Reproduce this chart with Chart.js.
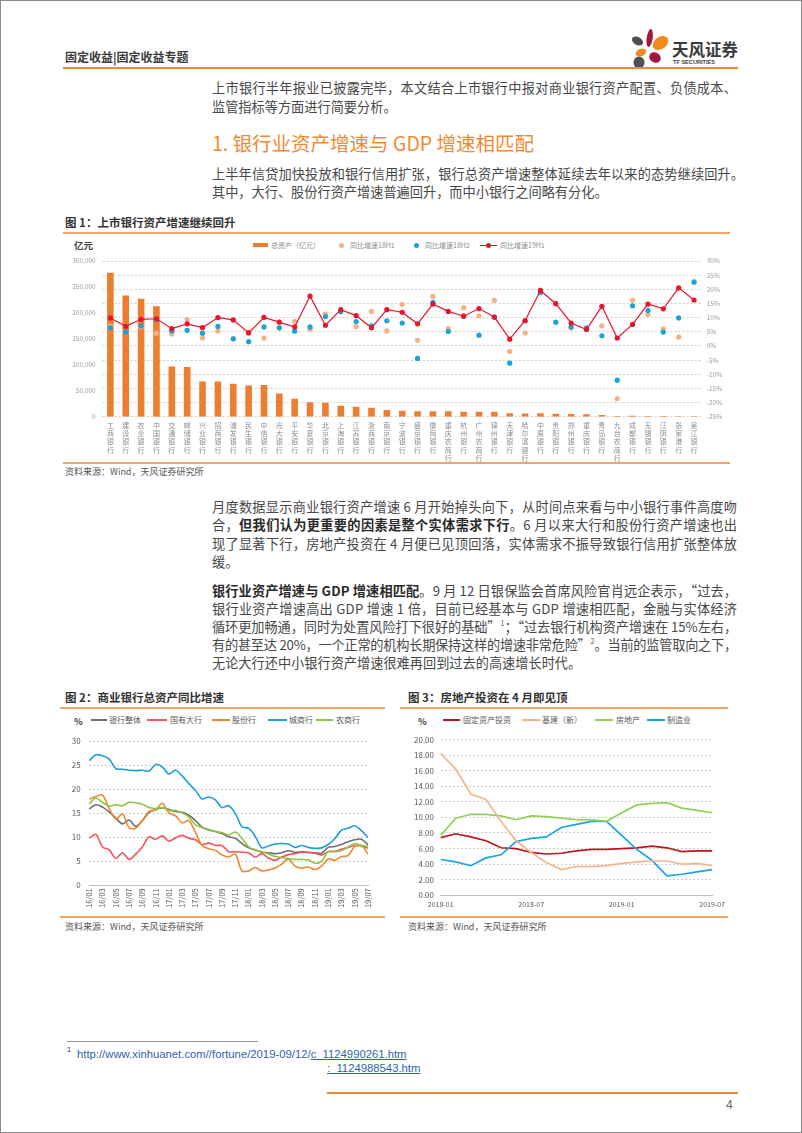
<!DOCTYPE html>
<html><head><meta charset="utf-8">
<script src="https://cdn.jsdelivr.net/npm/chart.js@4.4.0/dist/chart.umd.min.js"></script>
<style>
html,body{margin:0;padding:0;background:#fff;}
#page{position:relative;width:802px;height:1133px;overflow:hidden;font-family:"Noto Sans CJK SC","Noto Sans",sans-serif;color:#474747;}
#frame{position:absolute;left:0;top:0;width:802px;height:1133px;box-sizing:border-box;border:1px solid #8a8a8a;pointer-events:none;}
.abs{position:absolute;white-space:nowrap;}
.ln{position:absolute;left:212px;font-size:13.2px;line-height:18px;height:18px;white-space:nowrap;}
.ln b{font-weight:700;color:#2a2a2a;}
.ln sup{font-size:7px;line-height:0;vertical-align:6px;color:#555;letter-spacing:0;}
.ftitle{position:absolute;font-size:11.5px;font-weight:700;color:#333;line-height:14px;white-space:nowrap;}
.src{position:absolute;font-size:9px;color:#555;line-height:12px;white-space:nowrap;}
.oline{position:absolute;height:1.5px;background:#f2a561;}
.lg{position:absolute;font-size:7px;line-height:10px;color:#8c8c8c;white-space:nowrap;}
.lg2{position:absolute;font-size:8px;line-height:10px;color:#595959;white-space:nowrap;}
.sw{position:absolute;height:1.8px;}
.dot{position:absolute;width:5px;height:5px;border-radius:50%;}
canvas{position:absolute;}
</style>
</head>
<body>
<div id="page">
  <!-- header -->
  <div class="abs" style="left:65px;top:49px;font-size:12px;font-weight:700;color:#3a3a3a;line-height:16px;">固定收益|固定收益专题</div>
  <svg class="abs" style="left:626px;top:24px" width="48" height="48" viewBox="626 24 48 48">
    <ellipse cx="649.7" cy="38" rx="3" ry="9" fill="#a3173f" transform="rotate(8 649.7 38)"/>
    <ellipse cx="660.5" cy="43" rx="8.5" ry="6" fill="#f08a1c" transform="rotate(-35 660.5 43)"/>
    <ellipse cx="637.5" cy="41" rx="6" ry="4" fill="#4f4f4f" transform="rotate(30 637.5 41)"/>
    <ellipse cx="641" cy="52.5" rx="5.5" ry="3.6" fill="#f08a1c" transform="rotate(-20 641 52.5)"/>
    <ellipse cx="655" cy="57.5" rx="6" ry="5" fill="#a3173f" transform="rotate(30 655 57.5)"/>
    <ellipse cx="639" cy="62.5" rx="5.5" ry="6" fill="#4f4f4f"/>
  </svg>
  <div class="abs" style="left:672px;top:39px;font-size:16.5px;font-weight:700;color:#3b3b3b;line-height:20px;">天风证券</div>
  <div class="abs" style="left:673px;top:59px;font-family:'Liberation Sans',sans-serif;font-size:5.6px;font-weight:700;color:#3b3b3b;line-height:7px;">TF SECURITIES</div>
  <div class="abs" style="left:63px;top:67px;width:675px;height:2px;background:#e9893a;"></div>

  <!-- paragraph 1 -->
  <div class="ln j" data-w="525" style="top:79px;"><span>上市银行半年报业已披露完毕，本文结合上市银行中报对商业银行资产配置、负债成本、</span></div>
  <div class="ln" style="top:97.5px;"><span>监管指标等方面进行简要分析。</span></div>

  <div class="abs" style="left:212px;top:131px;font-size:19.5px;line-height:24px;color:#ef8a33;">1. 银行业资产增速与 GDP 增速相匹配</div>

  <div class="ln j" data-w="532" style="top:164.5px;"><span>上半年信贷加快投放和银行信用扩张，银行总资产增速整体延续去年以来的态势继续回升。</span></div>
  <div class="ln" style="top:183px;"><span>其中，大行、股份行资产增速普遍回升，而中小银行之间略有分化。</span></div>

  <!-- figure 1 -->
  <div class="ftitle" style="left:65px;top:215px;">图 1：上市银行资产增速继续回升</div>
  <div class="oline" style="left:63px;top:232px;width:667px;"></div>
  <div class="abs" style="left:74px;top:239px;font-size:9.5px;font-weight:700;color:#404040;line-height:12px;">亿元</div>
  <div class="abs" style="left:253px;top:243px;width:15px;height:4px;background:#ed7d31;"></div>
  <div class="lg" style="left:271px;top:240px;">总资产（亿元）</div>
  <div class="dot" style="left:338.5px;top:242.5px;background:#f4b183;"></div>
  <div class="lg" style="left:350px;top:240px;">同比增速18H1</div>
  <div class="dot" style="left:414px;top:242.5px;background:#1aa3d9;"></div>
  <div class="lg" style="left:425px;top:240px;">同比增速18H2</div>
  <div class="abs" style="left:480px;top:244.5px;width:17px;height:1.2px;background:#e8142c;"></div>
  <div class="dot" style="left:486px;top:242.5px;background:#e8142c;"></div>
  <div class="lg" style="left:500px;top:240px;">同比增速19H1</div>
  <canvas id="c1" width="680" height="212" style="left:60px;top:250px;width:680px;height:212px;"></canvas>
  <div class="oline" style="left:63px;top:462px;width:667px;"></div>
  <div class="src" style="left:65px;top:466px;">资料来源：Wind，天风证券研究所</div>

  <!-- paragraph 3 -->
  <div class="ln j" data-w="525" style="top:497.5px;"><span>月度数据显示商业银行资产增速 6 月开始掉头向下，从时间点来看与中小银行事件高度吻</span></div>
  <div class="ln j" data-w="525" style="top:516px;"><span>合，<b>但我们认为更重要的因素是整个实体需求下行</b>。6 月以来大行和股份行资产增速也出</span></div>
  <div class="ln j" data-w="525" style="top:534.5px;"><span>现了显著下行，房地产投资在 4 月便已见顶回落，实体需求不振导致银行信用扩张整体放</span></div>
  <div class="ln" style="top:553px;"><span>缓。</span></div>

  <!-- paragraph 4 -->
  <div class="ln j" data-w="525" style="top:582px;"><span><b>银行业资产增速与 GDP 增速相匹配</b>。9 月 12 日银保监会首席风险官肖远企表示，“过去，</span></div>
  <div class="ln j" data-w="525" style="top:600px;"><span>银行业资产增速高出 GDP 增速 1 倍，目前已经基本与 GDP 增速相匹配，金融与实体经济</span></div>
  <div class="ln j" data-w="525" style="top:618px;"><span>循环更加畅通，同时为处置风险打下很好的基础”<sup>1</sup>；“过去银行机构资产增速在 15%左右，</span></div>
  <div class="ln j" data-w="525" style="top:636px;"><span>有的甚至达 20%，一个正常的机构长期保持这样的增速非常危险”<sup>2</sup>。当前的监管取向之下，</span></div>
  <div class="ln" style="top:654px;"><span>无论大行还中小银行资产增速很难再回到过去的高速增长时代。</span></div>

  <!-- figure 2 -->
  <div class="ftitle" style="left:65px;top:689.5px;">图 2：商业银行总资产同比增速</div>
  <div class="oline" style="left:60px;top:707px;width:325px;"></div>
  <div class="abs" style="left:74px;top:716px;font-size:9px;font-weight:700;color:#404040;line-height:12px;">%</div>
  <div class="sw" style="left:91px;top:719.2px;width:16px;background:#6e6e6e;"></div>
  <div class="lg2" style="left:109px;top:715px;">银行整体</div>
  <div class="sw" style="left:147px;top:719.2px;width:20px;background:#f2545b;"></div>
  <div class="lg2" style="left:170px;top:715px;">国有大行</div>
  <div class="sw" style="left:212px;top:719.2px;width:18px;background:#ec8a2f;"></div>
  <div class="lg2" style="left:232px;top:715px;">股份行</div>
  <div class="sw" style="left:268px;top:719.2px;width:19px;background:#1aa0dc;"></div>
  <div class="lg2" style="left:289px;top:715px;">城商行</div>
  <div class="sw" style="left:316px;top:719.2px;width:17px;background:#8dc641;"></div>
  <div class="lg2" style="left:336px;top:715px;">农商行</div>
  <canvas id="c2" width="320" height="188" style="left:60px;top:728px;width:320px;height:188px;"></canvas>
  <div class="oline" style="left:60px;top:916px;width:325px;"></div>
  <div class="src" style="left:65px;top:921px;">资料来源：Wind，天风证券研究所</div>

  <!-- figure 3 -->
  <div class="ftitle" style="left:408px;top:689.5px;">图 3：房地产投资在 4 月即见顶</div>
  <div class="oline" style="left:400px;top:707px;width:328px;"></div>
  <div class="abs" style="left:418px;top:716px;font-size:9px;font-weight:700;color:#404040;line-height:12px;">%</div>
  <div class="sw" style="left:443px;top:719.2px;width:17px;background:#c0141e;"></div>
  <div class="lg2" style="left:463px;top:715px;">固定资产投资</div>
  <div class="sw" style="left:522px;top:719.2px;width:18px;background:#f5b58c;"></div>
  <div class="lg2" style="left:542px;top:715px;">基建（新）</div>
  <div class="sw" style="left:595px;top:719.2px;width:18px;background:#93cf56;"></div>
  <div class="lg2" style="left:616px;top:715px;">房地产</div>
  <div class="sw" style="left:647px;top:719.2px;width:18px;background:#17a6e2;"></div>
  <div class="lg2" style="left:667px;top:715px;">制造业</div>
  <canvas id="c3" width="330" height="188" style="left:400px;top:728px;width:330px;height:188px;"></canvas>
  <div class="oline" style="left:400px;top:916px;width:328px;"></div>
  <div class="src" style="left:408px;top:921px;">资料来源：Wind，天风证券研究所</div>

  <!-- footnotes -->
  <div class="abs" style="left:67px;top:1041px;width:191px;height:1px;background:#9a9a9a;"></div>
  <div class="abs" style="left:67px;top:1045px;font-family:'Liberation Sans',sans-serif;font-size:7.5px;color:#333;line-height:9px;">1</div>
  <div class="abs" style="left:77px;top:1047px;font-family:'Liberation Sans',sans-serif;font-size:11.3px;color:#2f62b0;line-height:14px;">http://www.xinhuanet.com//fortune/2019-09/12/<span style="text-decoration:underline;">c_1124990261.htm</span></div>
  <div class="abs" style="left:327px;top:1061px;font-family:'Liberation Sans',sans-serif;font-size:11.3px;color:#2f62b0;line-height:14px;text-decoration:underline;">:_1124988543.htm</div>
  <div class="abs" style="left:327px;top:1092px;width:411px;height:2px;background:#e9893a;"></div>
  <div class="abs" style="left:726px;top:1098px;font-family:'Liberation Sans',sans-serif;font-size:12px;color:#666;line-height:14px;">4</div>

  <div id="frame"></div>
</div>

<script>
// justify full text lines to their measured column width
document.querySelectorAll('.ln.j').forEach(el => {
  const span = el.firstElementChild;
  const target = parseFloat(el.dataset.w);
  const w = span.getBoundingClientRect().width;
  const n = span.textContent.length;
  if (n > 1) span.style.letterSpacing = ((target - w) / (n - 1)).toFixed(3) + 'px';
});

// ---------- Figure 1 data ----------
const banks = ['工商银行','建设银行','农业银行','中国银行','交通银行','邮储银行','兴业银行','招商银行','浦发银行','民生银行',
  '中信银行','光大银行','平安银行','华夏银行','北京银行','上海银行','江苏银行','浙商银行','南京银行','宁波银行',
  '盛京银行','徽商银行','重庆农商行','杭州银行','广州农商行','锦州银行','天津银行','哈尔滨银行','中原银行','贵阳银行',
  '郑州银行','重庆银行','青岛银行','九台农商行','成都银行','无锡银行','江阴银行','张家港行','吴江银行'];
const totalAssets = [277500,233600,227200,212900,96800,95600,67700,67700,63300,60000,
  61000,44500,34800,27900,27000,21300,19400,17400,13000,11600,
  10300,10300,10300,9700,9700,9700,6500,6000,6500,5500,
  5000,4500,3500,1500,2000,1200,1200,1100,1100];
const growth18H1 = [7.0,6.9,6.7,4.5,4.2,9.3,2.8,5.3,2.6,4.9,
  2.8,6.3,8.7,5.9,11.2,12.6,6.8,12.2,5.3,14.7,
  2.0,17.5,6.1,13.5,10.6,16.1,-1.9,4.6,19.6,15.2,
  6.4,6.2,7.1,-18.6,16.1,11.1,6.0,3.1,22.8];
const growth18H2 = [6.4,4.9,7.1,9.3,5.3,5.5,4.5,6.9,2.5,1.5,
  6.7,6.4,5.2,6.7,10.4,12.1,8.6,7.1,8.9,8.1,
  -4.4,15.4,5.1,10.5,3.8,10.2,-6.1,8.9,18.8,8.4,
  6.7,6.4,3.6,-12.1,14.2,12.5,4.9,9.9,22.5];
const growth19H1 = [9.9,6.9,9.4,9.6,6.1,7.8,6.5,10.0,9.2,4.6,
  10.1,8.4,6.7,17.6,7.3,12.8,10.7,6.4,12.8,11.9,
  7.8,14.8,12.2,10.5,13.2,10.2,2.4,8.9,19.6,14.9,
  8.1,5.8,14.0,2.8,7.6,14.8,13.1,20.5,16.2];

// ---------- Figure 2 data ----------
const months2 = ['16/01','16/02','16/03','16/04','16/05','16/06','16/07','16/08','16/09','16/10','16/11','16/12',
  '17/01','17/02','17/03','17/04','17/05','17/06','17/07','17/08','17/09','17/10','17/11','17/12',
  '18/01','18/02','18/03','18/04','18/05','18/06','18/07','18/08','18/09','18/10','18/11','18/12',
  '19/01','19/02','19/03','19/04','19/05','19/06','19/07'];
const bankAll = [15.9,16.8,16.3,15.3,14.0,12.8,13.6,12.3,13.5,15.2,15.8,16.1,
  15.8,15.4,15.2,14.6,13.5,12.1,11.6,11.2,10.8,10.1,9.8,8.7,
  7.8,7.4,6.9,6.8,6.6,6.8,7.2,6.9,7.0,6.9,6.8,6.7,
  7.9,8.1,8.5,9.1,9.5,9.6,8.5];
const stateBanks = [9.8,10.6,8.0,7.4,5.6,6.8,5.4,6.5,8.0,10.1,9.6,10.3,
  9.2,9.9,10.4,9.8,9.5,8.5,8.8,8.3,8.3,7.0,7.0,6.9,
  6.8,5.9,6.6,5.7,5.2,5.9,6.4,6.6,6.9,6.8,6.7,6.3,
  7.0,7.1,7.5,7.9,8.3,8.2,7.7];
const jointStock = [18.0,18.5,18.8,16.0,13.8,14.9,12.0,11.9,13.5,15.4,15.7,17.1,
  15.1,14.5,13.0,13.5,11.0,8.3,7.6,7.3,6.3,5.9,6.5,3.0,
  3.0,3.7,3.0,3.2,3.6,4.4,5.5,4.0,3.6,3.8,3.3,4.0,
  5.5,5.2,6.0,6.2,8.1,8.3,6.5];
const cityBanks = [26.0,27.2,27.0,26.3,24.3,24.2,24.0,23.9,24.0,23.8,25.2,24.7,
  23.2,24.0,22.8,21.2,19.8,18.0,18.4,17.8,16.2,16.6,15.0,12.2,
  11.9,10.2,7.8,8.2,8.6,8.7,8.6,7.9,8.3,7.9,7.7,7.8,
  8.5,9.7,11.5,11.9,12.4,11.4,10.0];
const ruralBanks = [17.0,18.2,17.3,16.5,16.8,16.6,17.3,17.2,16.9,16.2,16.0,16.2,
  15.6,15.6,15.1,14.2,12.6,12.0,11.5,11.2,11.0,10.5,11.1,9.8,
  8.0,7.3,7.0,6.5,6.0,5.8,5.6,5.4,5.4,5.3,4.6,5.0,
  7.0,7.0,7.2,8.0,8.7,8.3,8.2];

// ---------- Figure 3 data ----------
const months3 = ['2018-01','2018-02','2018-03','2018-04','2018-05','2018-06','2018-07','2018-08','2018-09','2018-10',
  '2018-11','2018-12','2019-01','2019-02','2019-03','2019-04','2019-05','2019-06','2019-07'];
const fixedAssetInv = [7.4,7.9,7.5,7.0,6.1,6.0,5.5,5.3,5.4,5.7,5.9,5.9,6.0,6.1,6.3,6.1,5.6,5.7,5.7];
const infraNew      = [18.2,16.2,13.0,12.3,9.5,7.0,5.5,4.2,3.3,3.7,3.7,3.8,4.1,4.3,4.4,4.4,4.0,4.1,3.8];
const realEstate    = [7.7,9.9,10.4,10.4,10.2,9.7,10.2,10.1,9.9,9.7,9.7,9.5,10.6,11.6,11.8,11.9,11.2,10.9,10.6];
const manufacturing = [4.6,4.3,3.8,4.8,5.2,6.9,7.3,7.5,8.7,9.1,9.5,9.5,7.7,5.9,4.5,2.5,2.7,3.0,3.3];

Chart.defaults.font.family = '"Noto Sans CJK SC","Noto Sans",sans-serif';
const fixW = w => (s => { s.width = w; });
const fixH = h => (s => { s.height = h; });
const base = { responsive:false, animation:false, devicePixelRatio:1,
  plugins:{ legend:{display:false}, tooltip:{enabled:false} } };

// Figure 1
new Chart(document.getElementById('c1'), {
  type:'bar',
  data:{
    labels: banks.map(b => b.split('')),
    datasets:[
      { type:'line', label:'同比增速19H1', data:growth19H1, yAxisID:'y1', borderColor:'#e8142c', backgroundColor:'#e8142c',
        borderWidth:1.2, pointRadius:2.6, pointBorderWidth:0, tension:0, order:0 },
      { type:'line', label:'同比增速18H2', data:growth18H2, yAxisID:'y1', showLine:false, backgroundColor:'#1aa3d9',
        borderColor:'#1aa3d9', pointRadius:2.6, pointBorderWidth:0, order:1 },
      { type:'line', label:'同比增速18H1', data:growth18H1, yAxisID:'y1', showLine:false, backgroundColor:'#f4b183',
        borderColor:'#f4b183', pointRadius:2.6, pointBorderWidth:0, order:2 },
      { type:'bar', label:'总资产（亿元）', data:totalAssets, yAxisID:'y', backgroundColor:'#ed7d31',
        barPercentage:0.43, categoryPercentage:1, order:3 }
    ]
  },
  options:Object.assign({}, base, {
    layout:{ padding:{ top:11, left:0, right:0, bottom:0 } },
    scales:{
      x:{ grid:{display:false, drawTicks:false}, border:{display:false},
          ticks:{ color:'#8c8c8c', font:{size:7, lineHeight:1.2}, maxRotation:0, minRotation:0, autoSkip:false, padding:4 },
          afterFit: fixH(45.3) },
      y:{ position:'left', min:0, max:300000,
          ticks:{ stepSize:50000, color:'#9a9a9a', font:{size:6.5}, padding:7, callback:v => v.toLocaleString('en-US') },
          grid:{display:false, drawTicks:false}, border:{display:false}, afterFit: fixW(42.7) },
      y1:{ position:'right', min:-25, max:30,
          ticks:{ stepSize:5, color:'#9a9a9a', font:{size:6.5}, padding:5, callback:v => v + '%' },
          grid:{ color:'#cfcfcf', lineWidth:1, drawTicks:false }, border:{display:false, dash:[2,2]}, afterFit: fixW(38.3) }
    }
  })
});

// Figure 2
const l2 = (label, data, color) => ({ label, data, borderColor:color, backgroundColor:color, borderWidth:1.6,
  pointRadius:0, tension:0.3 });
new Chart(document.getElementById('c2'), {
  type:'line',
  data:{ labels: months2, datasets:[
    l2('农商行', ruralBanks, '#8dc641'),
    l2('城商行', cityBanks, '#1aa0dc'),
    l2('股份行', jointStock, '#ec8a2f'),
    l2('国有大行', stateBanks, '#f2545b'),
    l2('银行整体', bankAll, '#6e6e6e')
  ]},
  options:Object.assign({}, base, {
    layout:{ padding:{ top:11, left:0, right:10, bottom:0 } },
    scales:{
      x:{ grid:{display:false, drawTicks:false}, border:{display:true, color:'#bfbfbf', width:1},
          ticks:{ autoSkip:false, maxRotation:90, minRotation:90, color:'#595959', font:{size:7.5}, padding:3,
                  callback(v, i){ return i % 2 === 0 ? this.getLabelForValue(v) : ''; } },
          afterFit: fixH(30.7) },
      y:{ min:0, max:30, ticks:{ stepSize:5, color:'#595959', font:{size:8}, padding:8.6 },
          grid:{ color:'#cfcfcf', drawTicks:false }, border:{display:false, dash:[2,2]}, afterFit: fixW(29.3) }
    }
  })
});

// Figure 3
const l3 = (label, data, color) => ({ label, data, borderColor:color, backgroundColor:color, borderWidth:1.7,
  pointRadius:0, tension:0 });
new Chart(document.getElementById('c3'), {
  type:'line',
  data:{ labels: months3, datasets:[
    l3('基建（新）', infraNew, '#f5b58c'),
    l3('房地产', realEstate, '#93cf56'),
    l3('制造业', manufacturing, '#17a6e2'),
    l3('固定资产投资', fixedAssetInv, '#c0141e')
  ]},
  options:Object.assign({}, base, {
    layout:{ padding:{ top:11, left:0, right:15, bottom:0 } },
    scales:{
      x:{ grid:{display:false, drawTicks:false}, border:{display:true, color:'#bfbfbf', width:1},
          ticks:{ autoSkip:false, maxRotation:0, minRotation:0, color:'#595959', font:{size:7}, padding:5,
                  callback(v, i){ return i % 6 === 0 ? this.getLabelForValue(v) : ''; } },
          afterFit: fixH(20.7) },
      y:{ min:0, max:20, ticks:{ stepSize:2, color:'#595959', font:{size:8}, padding:6.7, callback:v => v.toFixed(2) },
          grid:{ color:'#cfcfcf', drawTicks:false }, border:{display:false, dash:[2,2]}, afterFit: fixW(40.7) }
    }
  })
});
</script>
</body></html>
